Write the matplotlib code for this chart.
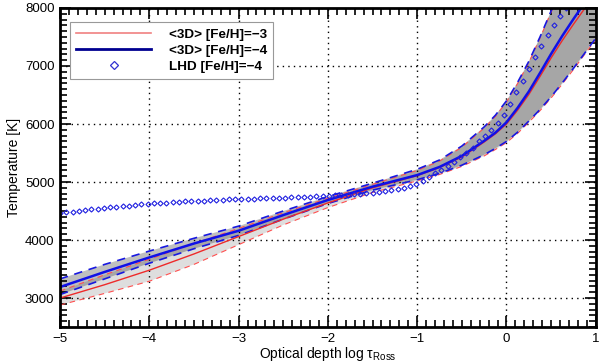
import numpy as np
import matplotlib
matplotlib.use('Agg')
import matplotlib.pyplot as plt
from matplotlib.ticker import MultipleLocator

plt.rcParams['font.family'] = ['Liberation Sans', 'DejaVu Sans']
plt.rcParams['mathtext.fontset'] = 'custom'
plt.rcParams['mathtext.rm'] = 'Liberation Sans'
plt.rcParams['mathtext.it'] = 'Liberation Sans:italic'

# <3D> models
logtau = [-5.0, -4.5, -4.0, -3.5, -3.0, -2.5, -2.0, -1.5, -1.0, -0.75, -0.5, -0.25, -0.125,
          0.0, 0.125, 0.25, 0.375, 0.5, 0.625, 0.75, 0.875, 1.0]
t_m4 = [3190, 3450, 3700, 3940, 4160, 4430, 4690, 4920, 5120, 5260, 5450, 5710, 5850,
        6030, 6280, 6560, 6880, 7210, 7520, 7810, 8090, 8360]
t_m4_hi = [3330, 3580, 3810, 4030, 4240, 4500, 4750, 4980, 5220, 5380, 5620, 5950, 6150,
           6400, 6720, 7080, 7500, 7950, 8350, 8700, 9050, 9400]
t_m4_lo = [3060, 3330, 3600, 3850, 4080, 4360, 4630, 4860, 5040, 5150, 5290, 5470, 5580,
           5700, 5860, 6050, 6250, 6470, 6710, 6960, 7220, 7480]
t_m3 = [3000, 3230, 3480, 3760, 4060, 4360, 4640, 4900, 5110, 5250, 5430, 5690, 5830,
        6000, 6240, 6510, 6820, 7140, 7440, 7720, 7990, 8250]
t_m3_hi = [3120, 3400, 3670, 3940, 4200, 4470, 4720, 4960, 5200, 5360, 5600, 5930, 6130,
           6380, 6700, 7060, 7480, 7930, 8330, 8680, 9030, 9380]
t_m3_lo = [2880, 3080, 3290, 3580, 3920, 4260, 4560, 4820, 5020, 5130, 5270, 5450, 5560,
           5680, 5840, 6030, 6230, 6450, 6690, 6940, 7200, 7460]

# LHD [Fe/H]=-4 diamonds
lhd_x = np.round(np.arange(-5.0, 0.75, 0.07), 2)
lhd_t = [4460, 4475, 4490, 4505, 4515, 4530, 4540, 4555, 4565, 4575,
         4585, 4595, 4605, 4615, 4625, 4632, 4640, 4647, 4653, 4660,
         4665, 4670, 4675, 4680, 4685, 4690, 4695, 4700, 4705, 4710,
         4713, 4716, 4720, 4723, 4726, 4730, 4733, 4737, 4740, 4744,
         4748, 4752, 4757, 4762, 4768, 4774, 4780, 4787, 4795, 4805,
         4815, 4828, 4844, 4860, 4880, 4903, 4930, 4960, 5022, 5085,
         5150, 5210, 5280, 5350, 5425, 5505, 5595, 5700, 5800, 5905,
         6020, 6160, 6350, 6550, 6750, 6950, 7150, 7350, 7540, 7710,
         7860, 8000, 8150]

fig = plt.figure(figsize=(6, 3.63), dpi=100)
ax = fig.add_axes([0.1, 0.099, 0.893, 0.879])

# bands
ax.fill_between(logtau, t_m3_lo, t_m3_hi, color='black', alpha=0.13, lw=0)
ax.plot(logtau, t_m3_lo, color='#ff5050', lw=0.8, ls=(0, (5, 4)))
ax.plot(logtau, t_m3_hi, color='#ff5050', lw=0.8, ls=(0, (5, 4)))
ax.fill_between(logtau, t_m4_lo, t_m4_hi, color='black', alpha=0.25, lw=0)
ax.plot(logtau, t_m4_lo, color='#1818e0', lw=1.2, ls=(0, (5, 4)))
ax.plot(logtau, t_m4_hi, color='#1818e0', lw=1.2, ls=(0, (5, 4)))

# mean lines
ax.plot(logtau, t_m3, color='#ee2a2a', lw=1.0)
ax.plot(logtau, t_m4, color='#1010e8', lw=1.8)
ax.plot(lhd_x, lhd_t[:len(lhd_x)], ls='none', marker='D', ms=2.6, mfc='none',
        mec='#2020e0', mew=0.8)

ax.set_xlim(-5, 1)
ax.set_ylim(2500, 8000)
ax.xaxis.set_minor_locator(MultipleLocator(0.1))
ax.yaxis.set_minor_locator(MultipleLocator(100))
ax.set_yticks([3000, 4000, 5000, 6000, 7000, 8000])
ax.set_xticks([-5, -4, -3, -2, -1, 0, 1])
ax.set_xticklabels(['\u22125', '\u22124', '\u22123', '\u22122', '\u22121', '0', '1'])
ax.tick_params(which='both', direction='in', top=True, right=True, labelsize=9.5, width=1.2)
ax.tick_params(which='major', length=8, pad=4)
ax.tick_params(which='minor', length=5)
ax.grid(True, which='major', color='black', ls=(0, (1, 3)), lw=1)
for s in ax.spines.values():
    s.set_linewidth(2)

ax.set_xlabel('Optical depth log \u03c4$_{\\rm Ross}$', fontsize=10, labelpad=0)
ax.set_ylabel('Temperature [K]', fontsize=10, labelpad=3)

# legend
h1, = ax.plot([], [], color='#f08080', lw=1.2)
h2, = ax.plot([], [], color='#000090', lw=2)
h3, = ax.plot([], [], ls='none', marker='D', ms=4, mfc='none', mec='#3030d0', mew=0.9)
leg = ax.legend([h1, h2, h3], ['<3D> [Fe/H]=\u22123', '<3D> [Fe/H]=\u22124', 'LHD [Fe/H]=\u22124'],
                loc='upper left', bbox_to_anchor=(0.0186, 0.956), borderaxespad=0,
                fancybox=False, edgecolor='#999999', framealpha=1, handlelength=5.6,
                prop={'weight': 'bold', 'size': 9.7}, borderpad=0.45,
                labelspacing=0.28, handletextpad=1.3)
leg.get_frame().set_linewidth(0.8)

fig.savefig('out.png', dpi=100)
